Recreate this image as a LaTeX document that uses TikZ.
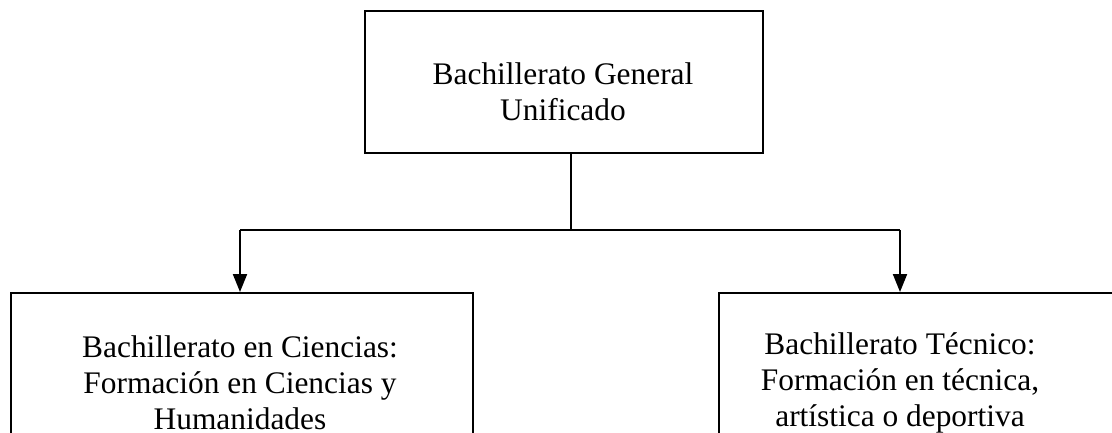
\documentclass[tikz,border=0pt]{standalone}
\usepackage{fontspec}
\setmainfont{Liberation Serif}
\usetikzlibrary{arrows.meta}
\begin{document}
\begin{tikzpicture}[x=0.5pt,y=-0.5pt,
  box/.style={draw=black,line width=1.1pt,fill=none,inner sep=0pt,anchor=north west},
  lbl/.style={align=center,font=\fontsize{15.7}{18}\selectfont,inner sep=0pt},
  conn/.style={draw=black,line width=1pt},
  arr/.style={conn,-{Triangle[length=9pt,width=7pt]}}]
\useasboundingbox (0,0) rectangle (1112,433);
\clip (0,0) rectangle (1112,433);
\node[box,minimum width=199pt,minimum height=71pt] (top) at (364,10) {};
\node[lbl] (toptext) at (563,92) {Bachillerato General\\Unificado};
\node[box,minimum width=231pt,minimum height=120pt] (left) at (10,292) {};
\node[box,minimum width=250pt,minimum height=120pt] (right) at (718,292) {};
\node[lbl] (lefttext) at (240,383) {Bachillerato en Ciencias:\\Formación en Ciencias y\\Humanidades};
\node[lbl] (righttext) at (900,383) {Bachillerato Técnico:\\Formación en técnica,\\artística o deportiva};
\coordinate (j) at (571,230);
\coordinate (jl) at (240,230);
\coordinate (jr) at (900,230);
\draw[conn] (top.south -| j) -- (j);
\draw[conn] (jl) -- (jr);
\draw[arr] (jl) -- (jl |- left.north);
\draw[arr] (jr) -- (jr |- right.north);
\end{tikzpicture}
\end{document}
